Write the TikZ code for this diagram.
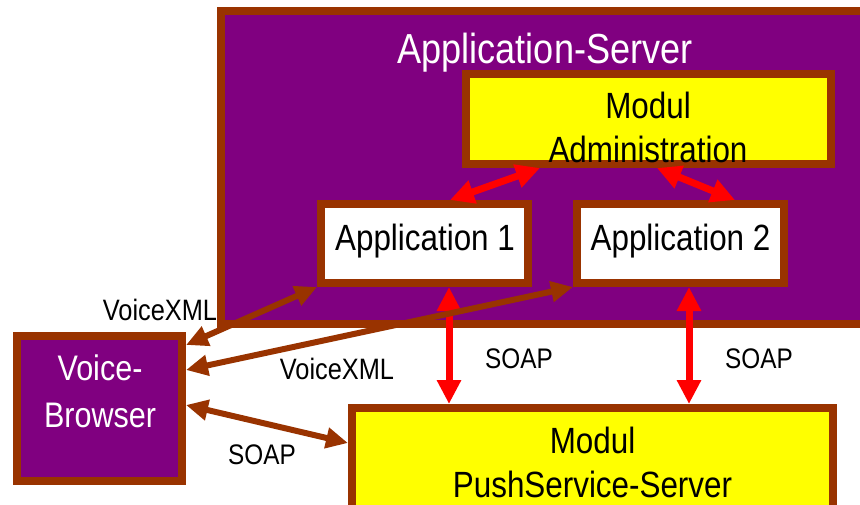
\documentclass[tikz,border=0pt]{standalone}
\usepackage{fontspec}
\setmainfont{Liberation Sans}[FakeStretch=0.86]
\usetikzlibrary{arrows.meta,calc}
\definecolor{purp}{HTML}{800080}
\definecolor{brn}{HTML}{993300}
\definecolor{yel}{HTML}{FFFF00}
\definecolor{redc}{HTML}{FF0000}
\tikzset{
  boxframe/.style={draw=brn, line width=8pt, rectangle, inner sep=0pt},
  redarrow/.style={draw=redc, line width=7pt, {Triangle[length=24pt,width=23pt]}-{Triangle[length=24pt,width=23pt]}},
  brownarrow/.style={draw=brn, line width=6pt, {Triangle[length=22pt,width=20pt]}-{Triangle[length=22pt,width=20pt]}},
  boxtext/.style={anchor=base, inner sep=0pt, font=\fontsize{36.5}{36.5}\selectfont},
  lbl/.style={anchor=base, inner sep=0pt, font=\fontsize{28.3}{28.3}\selectfont},
}
\begin{document}
\begin{tikzpicture}[x=1pt,y=-1pt]
\useasboundingbox (0,0) rectangle (860,504);
\clip (0,0) rectangle (860,504);
\fill[white] (0,0) rectangle (860,504);

% boxes
\node[boxframe, fill=purp, minimum width=670pt, minimum height=313pt] (srv) at (556,167.5) {};
\node[anchor=base, inner sep=0pt, text=white, font=\fontsize{42}{42}\selectfont] (srvt) at (545,63) {Application-Server};

\node[boxframe, fill=yel, minimum width=365pt, minimum height=90pt] (admin) at (648.5,119) {};
\node[boxtext] (admint1) at (648,118) {Modul};
\node[boxtext] (admint2) at (648,162) {Administration};

\node[boxframe, fill=white, minimum width=207pt, minimum height=79pt] (app1) at (424.5,243.5) {};
\node[boxtext] (app1t) at (425,250) {Application 1};

\node[boxframe, fill=white, minimum width=207pt, minimum height=79pt] (app2) at (680.5,243.5) {};
\node[boxtext] (app2t) at (680.5,250) {Application 2};

\node[boxframe, fill=purp, minimum width=165pt, minimum height=145pt] (vb) at (99.5,408.5) {};
\node[boxtext, text=white, font=\fontsize{35.5}{35.5}\selectfont] (vbt1) at (100,380) {Voice-};
\node[boxtext, text=white, font=\fontsize{35.5}{35.5}\selectfont] (vbt2) at (100,427) {Browser};

\node[boxframe, fill=yel, minimum width=481pt, minimum height=132pt] (push) at (592.5,474) {};
\node[boxtext] (pusht1) at (592.5,453) {Modul};
\node[boxtext] (pusht2) at (592.5,497) {PushService-Server};

% red arrows
\draw[redarrow] ([xshift=-108.5pt]admin.south) -- ([xshift=25.5pt]app1.north);
\draw[redarrow] ([xshift=8.5pt]admin.south) -- ([xshift=54.5pt]app2.north);
\draw[redarrow] ([xshift=24.5pt]app1.south) -- ([xshift=24.5pt]app1.south |- push.north);
\draw[redarrow] ([xshift=8.5pt]app2.south) -- ([xshift=8.5pt]app2.south |- push.north);

% brown arrows
\draw[brownarrow] ([yshift=63.5pt]vb.east) -- (app1.south west);
\draw[brownarrow] ([yshift=38.5pt]vb.east) -- (app2.south west);
\draw[brownarrow] ([yshift=3.5pt]vb.east) -- ([yshift=31pt]push.west);

% labels
\node[lbl, font=\fontsize{29.5}{29.5}\selectfont] (vx1) at (160,320) {VoiceXML};
\node[lbl, font=\fontsize{29.5}{29.5}\selectfont] (vx2) at (337,379) {VoiceXML};
\node[lbl] (s1) at (262,464) {SOAP};
\node[lbl] (s2) at (519,368) {SOAP};
\node[lbl] (s3) at (759,368) {SOAP};
\end{tikzpicture}
\end{document}
